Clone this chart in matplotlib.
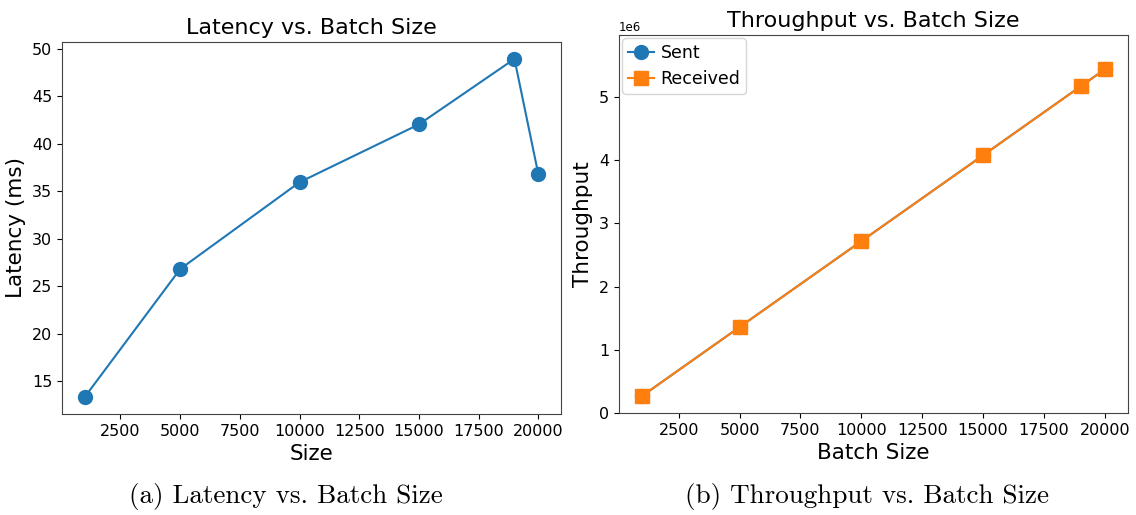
import matplotlib
matplotlib.use("Agg")
import matplotlib.pyplot as plt

sizes = [1000, 5000, 10000, 15000, 19000, 20000]
latency_ms = [13.3, 26.8, 35.95, 42.05, 48.95, 36.8]
sent = [0.27e6, 1.36e6, 2.72e6, 4.08e6, 5.17e6, 5.44e6]
received = [0.27e6, 1.36e6, 2.72e6, 4.08e6, 5.17e6, 5.44e6]
captions = ["(a) Latency vs. Batch Size", "(b) Throughput vs. Batch Size"]

W, H = 1136, 515
fig = plt.figure(figsize=(W / 100, H / 100), dpi=100)

def rect(x0, y0, x1, y1):
    return [x0 / W, 1 - y1 / H, (x1 - x0) / W, (y1 - y0) / H]

ax1 = fig.add_axes(rect(62, 42, 561, 414))
ax2 = fig.add_axes(rect(619, 35, 1128, 413))

for ax in (ax1, ax2):
    for s in ax.spines.values():
        s.set_edgecolor('#444444')

ax1.plot(sizes, latency_ms, marker='o', markersize=10, color='#1f77b4')
ax1.set_title("Latency vs. Batch Size", fontsize=16)
ax1.set_xlabel("Size", fontsize=15.5)
ax1.set_ylabel("Latency (ms)", fontsize=15.5)
ax1.tick_params(labelsize=11.5)

ax2.plot(sizes, sent, marker='o', markersize=10, color='#1f77b4', label='Sent')
ax2.plot(sizes, received, marker='s', markersize=10, color='#ff7f0e', label='Received')
ax2.set_ylim(0, max(received) * 1.1)
ax2.set_title("Throughput vs. Batch Size", fontsize=16)
ax2.set_xlabel("Batch Size", fontsize=15.5)
ax2.set_ylabel("Throughput", fontsize=15.5)
ax2.tick_params(labelsize=11.5)
ax2.yaxis.get_offset_text().set_fontsize(8.5)
ax2.legend(loc='upper left', fontsize=12.5, borderpad=0.3, handlelength=1.5,
           handletextpad=0.4, borderaxespad=0.2)

fig.text(286 / W, 1 - 497 / H, captions[0], ha='center', va='center',
         fontsize=19.5, family='cmr10')
fig.text(867 / W, 1 - 497 / H, captions[1], ha='center', va='center',
         fontsize=19.5, family='cmr10')

fig.savefig("out.png", dpi=100)
